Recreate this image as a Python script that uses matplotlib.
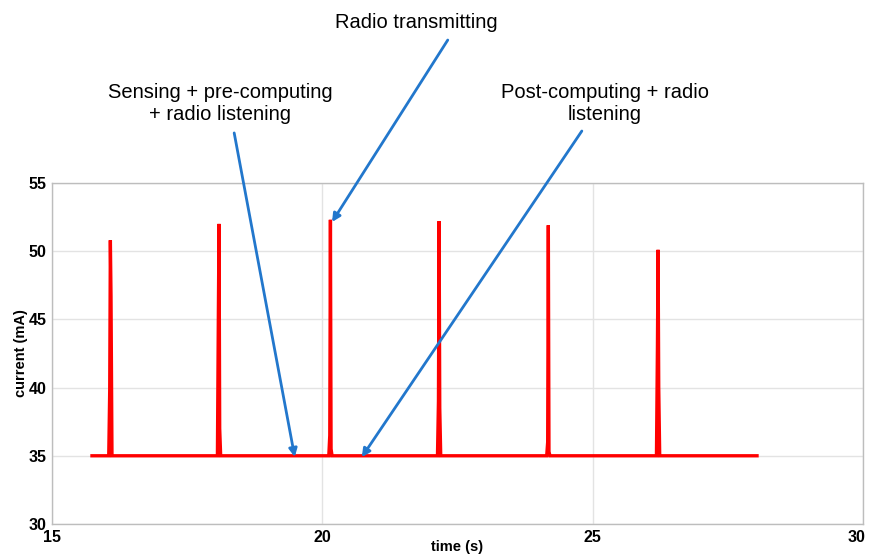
import numpy as np
import matplotlib.pyplot as plt
import matplotlib.transforms as mtransforms

plt.rcParams['font.family'] = ['Liberation Sans', 'DejaVu Sans']

# recording window (s) and idle current (mA)
t_start, t_end = 15.74, 28.04
idle_current = 35.0

# transmit bursts: time, peak, and the intermediate steps on the way up/down
burst_times = [16.08, 18.09, 20.15, 22.16, 24.18, 26.21]
burst_peaks = [50.8, 52.0, 52.3, 52.2, 51.9, 50.1]
burst_rise = [39.8, 45.7, 36.5, 39.0, 36.0, 43.0]
burst_fall = [46.7, 37.0, 35.5, 38.5, 35.3, 40.0]

# build the trace from the idle level and the bursts
t = [t_start]
i = [idle_current]
for bt, pk, up, dn in zip(burst_times, burst_peaks, burst_rise, burst_fall):
    t += [bt - 0.03, bt - 0.012, bt, bt + 0.012, bt + 0.03]
    i += [idle_current, up, pk, dn, idle_current]
t.append(t_end)
i.append(idle_current)

fig = plt.figure(figsize=(8.69, 5.56), dpi=100)
ax = fig.add_axes([0.0598, 0.0576, 0.9333, 0.6133])

ax.plot(t, i, color='#ff0000', lw=2.4, solid_joinstyle='miter')

ax.set_xlim(15, 30)
ax.set_ylim(30, 55)
ax.set_xticks([15, 20, 25, 30])
ax.set_yticks([30, 35, 40, 45, 50, 55])
ax.grid(True, color='#e3e3e3', lw=1.0)
ax.set_axisbelow(True)
ax.tick_params(length=0, labelsize=11.5, pad=4)
for lbl in ax.get_xticklabels() + ax.get_yticklabels():
    lbl.set_fontweight('bold')
# keep the last x label inside the figure edge
last = ax.get_xticklabels()[-1]
last.set_transform(last.get_transform() +
                   mtransforms.ScaledTranslation(-6 / 100, 0, fig.dpi_scale_trans))
for s in ax.spines.values():
    s.set_color('#bdbdbd')
    s.set_linewidth(1.0)

ax.set_xlabel('time (s)', fontsize=10.5, fontweight='bold', labelpad=-3)
ax.set_ylabel('current (mA)', fontsize=10.5, fontweight='bold', labelpad=0)

# annotations with arrows
blue = '#2277cc'
arrow = dict(arrowstyle='-|>', color=blue, lw=2.0, mutation_scale=12,
             shrinkA=0, shrinkB=0)
ax.annotate('', xy=(20.18, 52.14), xytext=(22.32, 65.48),
            arrowprops=arrow, annotation_clip=False)
ax.annotate('', xy=(19.49, 34.91), xytext=(18.37, 58.67),
            arrowprops=arrow, annotation_clip=False)
ax.annotate('', xy=(20.73, 34.9), xytext=(24.80, 58.81),
            arrowprops=arrow, annotation_clip=False)

fig.text(416 / 869, 1 - 22 / 556, 'Radio transmitting', ha='center',
         va='center', fontsize=14.5)
fig.text(220 / 869, 1 - 104 / 556, 'Sensing + pre-computing\n+ radio listening',
         ha='center', va='center', fontsize=14.5, linespacing=1.2)
fig.text(605 / 869, 1 - 104 / 556, 'Post-computing + radio\nlistening',
         ha='center', va='center', fontsize=14.5, linespacing=1.2)

fig.savefig('out.png', dpi=100, facecolor='white')
